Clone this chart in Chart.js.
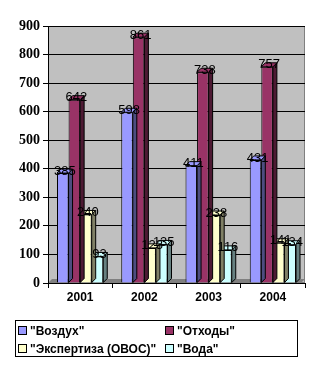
<!DOCTYPE html>
<html>
<head>
<meta charset="utf-8">
<script src="https://cdn.jsdelivr.net/npm/chart.js@4"></script>
<style>
  body { margin: 0; background: #fff; }
  #wrap { position: relative; width: 322px; height: 373px; }
  #legend {
    position: absolute; left: 15px; top: 320px; width: 283px; height: 37px;
    border: 1px solid #000; box-sizing: border-box;
    font: bold 12px "Liberation Sans", Arial, sans-serif; color: #000;
  }
  .item { position: absolute; white-space: nowrap; line-height: 13px; }
  .sw { display: inline-block; width: 7px; height: 7px; border: 1px solid #000; margin-right: 3px; vertical-align: 0px; }
</style>
</head>
<body>
<div id="wrap">
  <canvas id="c" width="322" height="373"></canvas>
  <div id="legend"></div>
</div>
<script>
// data
const years = ['2001', '2002', '2003', '2004'];
const seriesNames = ['"Воздух"', '"Отходы"', '"Экспертиза (ОВОС)"', '"Вода"'];
const air = [385, 598, 411, 431];
const waste = [642, 861, 738, 757];
const expert = [240, 123, 238, 141];
const water = [93, 135, 116, 134];
const colors = ['#9999ff', '#993366', '#ffffcc', '#ccffff'];
const sideColors = ['#4d4d80', '#4d1a33', '#808066', '#668080'];

const DEPTH = 4;

//gray back wall and floor
const wallPlugin = {
    id: 'wall',
    beforeDraw(chart) {
        const a = chart.chartArea, ctx = chart.ctx;
        ctx.save();
        ctx.fillStyle = '#c0c0c0';
        ctx.fillRect(a.left, a.top, a.right - a.left, a.bottom - a.top);
        ctx.fillStyle = '#808080';
        ctx.beginPath(); //floor
        ctx.moveTo(a.left, a.bottom);
        ctx.lineTo(a.left + DEPTH, a.bottom - DEPTH);
        ctx.lineTo(a.right, a.bottom - DEPTH);
        ctx.lineTo(a.right - DEPTH, a.bottom);
        ctx.closePath(); ctx.fill();
        ctx.strokeStyle = '#808080';
        ctx.strokeRect(a.left + 0.5, a.top + 0.5, a.right - a.left - 1, a.bottom - a.top - 1);
        ctx.restore();
    }
};

//side and top faces, per dataset so the next bars cover them
const depthPlugin = {
    id: 'depth',
    afterDatasetDraw(chart, args) {
        const ctx = chart.ctx;
        const i = args.index;
        ctx.save();
        ctx.strokeStyle = '#000';
        ctx.lineWidth = 1;
        args.meta.data.forEach(bar => {
            const p = bar.getProps(['x', 'y', 'base', 'width'], true);
            const r = p.x + p.width / 2, l = p.x - p.width / 2;
            ctx.fillStyle = sideColors[i];
            ctx.beginPath();
            ctx.moveTo(r, p.y); ctx.lineTo(r + DEPTH, p.y - DEPTH);
            ctx.lineTo(r + DEPTH, p.base - DEPTH); ctx.lineTo(r, p.base);
            ctx.closePath(); ctx.fill(); ctx.stroke();
            ctx.fillStyle = colors[i];
            ctx.beginPath();
            ctx.moveTo(l, p.y); ctx.lineTo(l + DEPTH, p.y - DEPTH);
            ctx.lineTo(r + DEPTH, p.y - DEPTH); ctx.lineTo(r, p.y);
            ctx.closePath(); ctx.fill(); ctx.stroke();
        });
        ctx.restore();
    },
    afterDatasetsDraw(chart) {
        const ctx = chart.ctx;
        ctx.save();
        ctx.font = '13px "Liberation Sans", Arial, sans-serif';
        ctx.fillStyle = '#000';
        ctx.textAlign = 'center';
        ctx.textBaseline = 'middle';
        chart.data.datasets.forEach((ds, i) => {
            chart.getDatasetMeta(i).data.forEach((bar, j) => {
                ctx.fillText(String(ds.data[j]), bar.x + 2, bar.y - 2);
            });
        });
        ctx.restore();
    }
};

const allSeries = [air, waste, expert, water];

new Chart(document.getElementById('c'), {
    type: 'bar',
    data: {
        labels: years,
        datasets: allSeries.map((d, i) => ({
            label: seriesNames[i],
            data: d,
            backgroundColor: colors[i],
            borderColor: '#000',
            borderWidth: 1,
            barPercentage: 1,
            categoryPercentage: 0.72
        }))
    },
    options: {
        responsive: false,
        animation: false,
        layout: { padding: { left: 0, top: 26, right: 17, bottom: 0 } },
        plugins: { legend: { display: false }, tooltip: { enabled: false } },
        scales: {
            x: {
                afterFit: s => { s.height = 90; },
                grid: { offset: true, drawOnChartArea: false, color: '#000', tickLength: 5 },
                border: { color: '#000' },
                ticks: { color: '#000', padding: 2, font: { family: '"Liberation Sans", Arial', size: 12, weight: 'bold' } }
            },
            y: {
                min: 0, max: 900,
                afterFit: s => { s.width = 48; },
                grid: { color: '#000', tickLength: 5 },
                border: { color: '#000' },
                ticks: { stepSize: 100, color: '#000', padding: 3, font: { family: '"Liberation Serif", "Times New Roman"', size: 14, weight: 'bold' } }
            }
        }
    },
    plugins: [wallPlugin, depthPlugin]
});

//legend in a box, two columns
const legend = document.getElementById('legend');
seriesNames.forEach((name, i) => {
    const el = document.createElement('div');
    el.className = 'item';
    el.style.left = (i % 2 ? 149 : 2) + 'px';
    el.style.top = (i < 2 ? 4 : 22) + 'px';
    el.innerHTML = '<span class="sw" style="background:' + colors[i] + '"></span>' + name;
    legend.appendChild(el);
});
</script>
</body>
</html>
